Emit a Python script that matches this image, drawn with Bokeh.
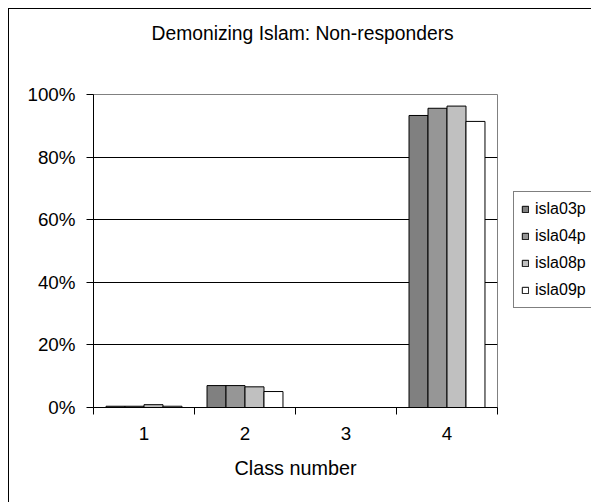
from bokeh.plotting import figure
from bokeh.models import (ColumnDataSource, Range1d, FixedTicker, NumeralTickFormatter,
                          Legend, LegendItem, Title)
from bokeh.layouts import row
from bokeh.transform import dodge
from bokeh.embed import file_html
from bokeh.resources import INLINE

# ---- data ----
title_text = "Demonizing Islam: Non-responders"
x_label = "Class number"
classes = ["1", "2", "3", "4"]
series = ["isla03p", "isla04p", "isla08p", "isla09p"]
isla03p = [0.004, 0.070, 0.0, 0.933]
isla04p = [0.004, 0.070, 0.0, 0.956]
isla08p = [0.009, 0.066, 0.0, 0.963]
isla09p = [0.004, 0.051, 0.0, 0.914]
y_ticks = [0.0, 0.2, 0.4, 0.6, 0.8, 1.0]

colors = ["#808080", "#969696", "#c0c0c0", "#ffffff"]
FONT = "Liberation Sans"

xpos = [float(c) for c in classes]
src = ColumnDataSource(dict(x=xpos, isla03p=isla03p, isla04p=isla04p,
                            isla08p=isla08p, isla09p=isla09p))

p = figure(width=504, height=493, output_backend="svg", toolbar_location=None,
           title_location=None,
           x_range=Range1d(xpos[0] - 0.5, xpos[-1] + 0.5), y_range=Range1d(0, 1),
           min_border_left=84, min_border_right=16, min_border_top=85, min_border_bottom=95)
p.background_fill_color = "white"
p.border_fill_color = "white"
p.outline_line_color = "#808080"
p.outline_line_width = 1

# title: a thin spacer next to the frame, then the real title above it
p.add_layout(Title(text=" ", text_font_size="1px", standoff=48), "above")
p.add_layout(Title(text=title_text, align="left", offset=58, standoff=0,
                   text_font=FONT, text_font_size="19.3px", text_font_style="normal",
                   text_color="black"), "above")

bar_w = 0.188
offsets = [-1.5 * bar_w, -0.5 * bar_w, 0.5 * bar_w, 1.5 * bar_w]
for name, col, off in zip(series, colors, offsets):
    p.vbar(x=dodge("x", off, range=p.x_range), top=name, bottom=0, width=bar_w,
           source=src, fill_color=col, line_color="black", line_width=1)

# grid
p.xgrid.visible = False
p.ygrid.ticker = FixedTicker(ticks=y_ticks[1:-1])
p.ygrid.grid_line_color = "black"
p.ygrid.grid_line_width = 1

# y axis
ya = p.yaxis[0]
ya.ticker = FixedTicker(ticks=y_ticks)
ya.formatter = NumeralTickFormatter(format="0%")
ya.major_tick_in = 0
ya.major_tick_out = 7
ya.minor_tick_out = 0
ya.minor_tick_in = 0
ya.axis_line_color = "black"
ya.major_tick_line_color = "black"
ya.major_label_standoff = 11
ya.major_label_text_font = FONT
ya.major_label_text_font_size = "18.8px"
ya.major_label_text_color = "black"

# x axis
xa = p.xaxis[0]
xa.ticker = FixedTicker(ticks=xpos, minor_ticks=[v - 0.5 for v in xpos] + [xpos[-1] + 0.5])
xa.major_label_overrides = {v: c for v, c in zip(xpos, classes)}
xa.major_tick_in = 0
xa.major_tick_out = 0
xa.minor_tick_in = 0
xa.minor_tick_out = 7
xa.minor_tick_line_color = "black"
xa.axis_line_color = "black"
xa.major_label_standoff = 12
xa.major_label_text_font = FONT
xa.major_label_text_font_size = "18.8px"
xa.major_label_text_color = "black"
xa.axis_label = x_label
xa.axis_label_text_font = FONT
xa.axis_label_text_font_size = "19.8px"
xa.axis_label_text_font_style = "normal"
xa.axis_label_text_color = "black"
xa.axis_label_standoff = 14

# legend panel (separate narrow figure to the right of the plot area)
lg = figure(width=78, height=493, output_backend="svg", toolbar_location=None,
            title_location=None,
            x_range=Range1d(100, 101), y_range=Range1d(100, 101),
            x_axis_type=None, y_axis_type=None,
            min_border_left=0, min_border_right=0, min_border_top=0, min_border_bottom=0)
lg.grid.visible = False
lg.outline_line_color = None
lg.background_fill_color = "white"
lg.border_fill_color = "white"
# hidden proxy bars that carry the legend swatches
leg_r = [lg.vbar(x="x", top=name, bottom=0, width=bar_w, source=src, fill_color=c,
                 line_color="black", line_width=1, visible=False)
         for name, c in zip(series, colors)]
legend = Legend(items=[LegendItem(label=n, renderers=[r]) for n, r in zip(series, leg_r)],
                location=(0, 99), orientation="vertical",
                glyph_width=8, glyph_height=8, label_height=20, label_standoff=6,
                spacing=7, padding=7, margin=0,
                label_text_font=FONT, label_text_font_size="16px", label_text_color="black",
                border_line_color="black", border_line_width=1,
                background_fill_color="white", background_fill_alpha=1,
                inactive_fill_alpha=0)
lg.add_layout(legend, "center")

layout = row(p, lg)
layout.spacing = 0
layout.styles = {"margin-left": "8px", "margin-top": "8px",
                 "border-left": "1px solid black", "border-top": "1px solid black"}

open("out.html", "w").write(file_html(layout, INLINE))
